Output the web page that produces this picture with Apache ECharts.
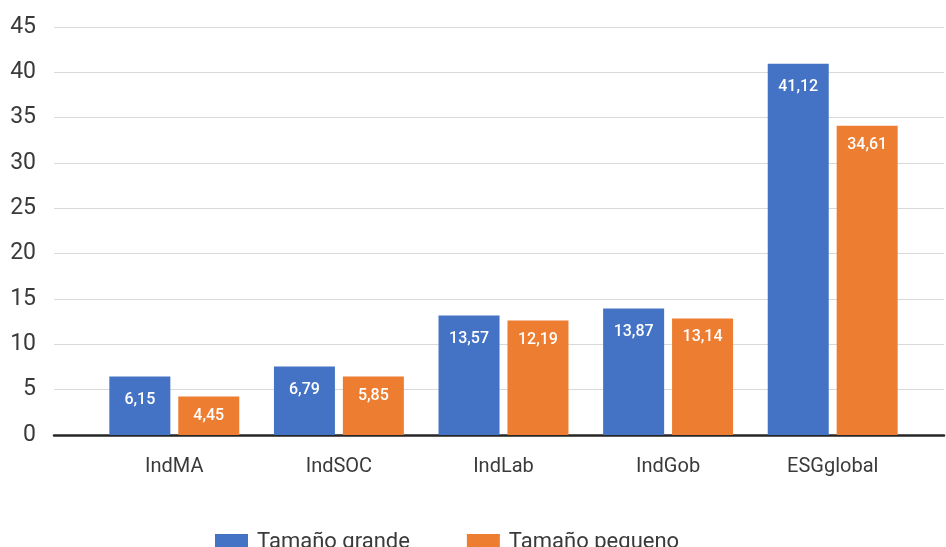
<!DOCTYPE html>
<html>
<head>
<meta charset="utf-8">
<script src="https://cdn.jsdelivr.net/npm/echarts@6/dist/echarts.min.js"></script>
<style>
html,body{margin:0;padding:0;background:#fff;}
#chart{width:946px;height:547px;}
</style>
</head>
<body>
<div id="chart"></div>
<script>
var categories = ['IndMA', 'IndSOC', 'IndLab', 'IndGob', 'ESGglobal'];
var seriesNames = ['Tamaño grande', 'Tamaño pequeno'];
// bar heights as drawn in the picture
var grandeValues = [6.45, 7.55, 13.17, 13.95, 40.96];
var pequenoValues = [4.24, 6.45, 12.62, 12.85, 34.12];
// numbers printed on the bars
var grandeLabels = [6.15, 6.79, 13.57, 13.87, 41.12];
var pequenoLabels = [4.45, 5.85, 12.19, 13.14, 34.61];
var yTicks = [0, 5, 10, 15, 20, 25, 30, 35, 40, 45];

var FONT = 'Roboto';
function fmt(v) { return v.toFixed(2).replace('.', ','); }

var chart = echarts.init(document.getElementById('chart'));
chart.setOption({
  animation: false,
  textStyle: { fontFamily: FONT },
  grid: [
    { left: 54, right: 2, top: 27, bottom: 112 },
    { left: 92, right: 31, top: 27, bottom: 112 }
  ],
  xAxis: [
    { gridIndex: 0, type: 'value', min: 0, max: 1,
      axisLine: { show: true, lineStyle: { color: '#262626', width: 2.5 } },
      axisTick: { show: false }, axisLabel: { show: false }, splitLine: { show: false } },
    { gridIndex: 1, type: 'category', data: categories,
      axisLine: { show: false }, axisTick: { show: false },
      axisLabel: { color: '#3a3a3a', fontSize: 20, margin: 22, fontFamily: FONT } }
  ],
  yAxis: [
    { gridIndex: 0, type: 'value', min: yTicks[0], max: yTicks[yTicks.length - 1], interval: 5,
      axisLine: { show: false }, axisTick: { show: false },
      axisLabel: { color: '#3a3a3a', fontSize: 23, margin: 18, fontFamily: FONT },
      splitLine: { lineStyle: { color: '#d9d9d9', width: 1.2 } } },
    { gridIndex: 1, type: 'value', min: 0, max: 45, show: false, splitLine: { show: false } }
  ],
  legend: {
    left: 210, top: 526,
    icon: 'rect', itemWidth: 33, itemHeight: 16, itemGap: 57,
    textStyle: { color: '#3a3a3a', fontSize: 22, fontFamily: FONT, padding: [0, 0, 0, 4] },
    data: seriesNames
  },
  series: [
    { name: seriesNames[0], type: 'bar', xAxisIndex: 1, yAxisIndex: 1,
      data: grandeValues, barWidth: 61, barGap: '13%',
      itemStyle: { color: '#4472C4' },
      label: { show: true, position: 'insideTop', distance: 15, color: '#fff', fontSize: 16, fontWeight: 500,
        fontFamily: FONT,
        formatter: function (p) { return fmt(grandeLabels[p.dataIndex]); } } },
    { name: seriesNames[1], type: 'bar', xAxisIndex: 1, yAxisIndex: 1,
      data: pequenoValues, barWidth: 61, barGap: '13%',
      itemStyle: { color: '#ED7D31' },
      label: { show: true, position: 'insideTop', distance: 11, color: '#fff', fontSize: 16, fontWeight: 500,
        fontFamily: FONT,
        formatter: function (p) { return fmt(pequenoLabels[p.dataIndex]); } } }
  ]
});
</script>
</body>
</html>
